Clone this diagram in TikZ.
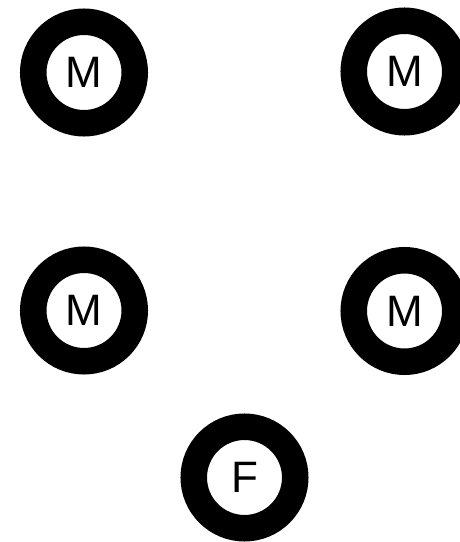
\documentclass[tikz,border=0pt]{standalone}
\usepackage{fontspec}
\setmainfont{Liberation Sans}
\begin{document}
\begin{tikzpicture}[x=1pt,y=1pt,
  ring/.style={circle, draw=black, line width=26.5pt, inner sep=0pt,
    minimum size=101.5pt, font=\fontsize{44}{52}\selectfont}]
\useasboundingbox[fill=white] (0,0) rectangle (460,542);
\node[ring] (m1) at (84,469.5) {M};
\node[ring] (m2) at (404.5,470.5) {M};
\node[ring] (m3) at (84,231.5) {M};
\node[ring] (m4) at (404.5,231) {M};
\node[ring] (f) at (244.5,64.5) {F};
\end{tikzpicture}
\end{document}
